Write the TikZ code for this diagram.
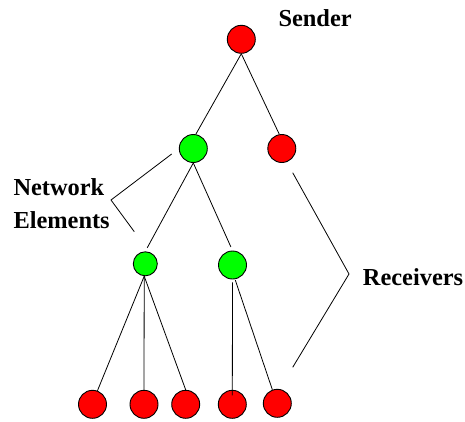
\documentclass[tikz,border=0pt]{standalone}
\usepackage{fontspec}
\setmainfont{Liberation Serif}
\begin{document}
\begin{tikzpicture}[x=1pt,y=-1pt,
  host/.style={circle,draw=black,line width=0.9pt,fill=red,minimum size=28pt,inner sep=0pt},
  router/.style={circle,draw=black,line width=0.9pt,fill=green,minimum size=28pt,inner sep=0pt},
  smallrouter/.style={router,minimum size=24pt},
  link/.style={draw=black,line width=0.8pt},
  lbl/.style={anchor=base west,inner sep=0pt,font=\bfseries\fontsize{24.4}{29}\selectfont}]
\useasboundingbox (0,0) rectangle (465,421);

% hosts and network elements
\node[host] (S) at (241.3,39.3) {};
\node[router] (G1) at (193.3,148.5) {};
\node[host] (R1) at (281.8,148.5) {};
\node[smallrouter] (G2) at (145.3,263.8) {};
\node[router] (G3) at (232.5,265) {};
\node[host] (L1) at (92.5,404.3) {};
\node[host] (L2) at (144,404.3) {};
\node[host] (L3) at (185.7,404.3) {};
\node[host] (L4) at (232.3,404.3) {};
\node[host] (L5) at (277.3,403.3) {};

% tree links
\draw[link] (S.south) -- (G1.80);
\draw[link] (S.south) -- (R1.100);
\draw[link,shorten >=4pt] (G1.south) -- (G2.north);
\draw[link,shorten >=4pt] (G1.south) -- (G3.north);
\draw[link] (G2.265) -- (L1.70);
\draw[link] (G2.265) -- (L2.north);
\draw[link] (G2.265) -- (L3.north);
\draw[link,shorten <=3pt,shorten >=9pt] (G3.south) -- (L4.center);
\draw[link,shorten <=1pt] (G3.280) -- (L5.110);

% labels
\node[lbl] (sendertxt) at (278.3,26.7) {Sender};
\node[lbl] (nettxt) at (13.3,195) {Network};
\node[lbl] (elemtxt) at (13.3,228.3) {Elements};
\node[lbl] (recvtxt) at (362.7,285) {Receivers};

% brackets
\coordinate (na) at (171.7,154);
\coordinate (nb) at (111,200);
\coordinate (nc) at (134.3,231.7);
\draw[link] (na) -- (nb) -- (nc);
\coordinate (ra) at (292.7,172.7);
\coordinate (rb) at (349,274);
\coordinate (rc) at (292.7,367.3);
\draw[link] (ra) -- (rb) -- (rc);
\end{tikzpicture}
\end{document}
